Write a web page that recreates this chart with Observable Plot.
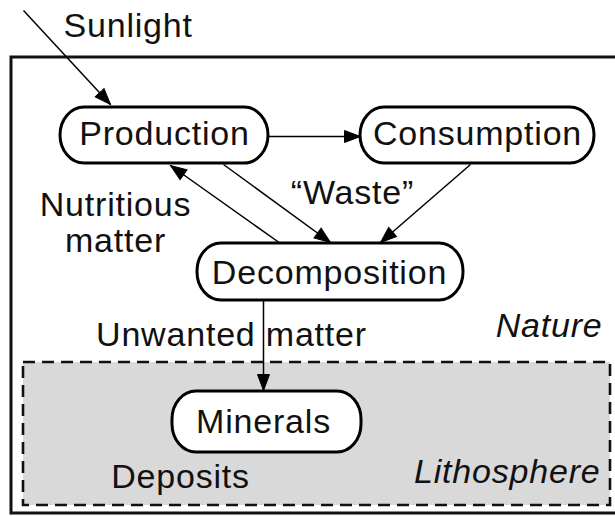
<!DOCTYPE html>
<html><head><meta charset="utf-8">
<script src="https://cdn.jsdelivr.net/npm/d3@7"></script>
<script src="https://cdn.jsdelivr.net/npm/@observablehq/plot@0.6"></script>
<style>html,body{margin:0;padding:0;background:#fff;overflow:hidden}</style>
</head><body><div id="chart"></div>
<script>
// Nodes (pill boxes) of the diagram
const nodeNames = ["Production", "Consumption", "Decomposition", "Minerals"];
const nodeX1 = [60, 360, 197, 172];
const nodeX2 = [268, 594, 463, 361];
const nodeY1 = [107, 107, 243, 391];
const nodeY2 = [163, 163, 300, 452];
const nodeLabelX = [164, 477, 329, 263];
const nodeLabelY = [134, 134, 273, 422];

// Flows (arrows)
const flowFromX = [23, 268, 223, 280, 470, 263];
const flowFromY = [10, 136, 164, 243, 164, 300];
const flowToX = [110, 360, 330, 170, 380, 263];
const flowToY = [104, 136, 242, 165, 242, 390];

// Flow captions
const captions = ["Sunlight", "Nutritious\nmatter", "\u201CWaste\u201D", "Unwanted matter", "Deposits"];
const captionX = [63, 115, 352, 231, 180];
const captionY = [26, 222, 192, 334, 476];
const captionAnchor = ["start", "middle", "middle", "middle", "middle"];

// Regions
const regionNames = ["Nature", "Lithosphere"];
const regionX1 = [11, 23];
const regionX2 = [630, 610];
const regionY1 = [57, 362];
const regionY2 = [513, 505];
const regionLabelX = [602, 600];
const regionLabelY = [326, 472];

const nodes = nodeNames.map((name, i) => ({name, x1: nodeX1[i], x2: nodeX2[i], y1: nodeY1[i], y2: nodeY2[i], lx: nodeLabelX[i], ly: nodeLabelY[i]}));
const flows = flowFromX.map((_, i) => ({x1: flowFromX[i], y1: flowFromY[i], x2: flowToX[i], y2: flowToY[i],
  angle: Math.atan2(flowToY[i] - flowFromY[i], flowToX[i] - flowFromX[i]) * 180 / Math.PI}));
const caps = captions.map((text, i) => ({text, x: captionX[i], y: captionY[i], anchor: captionAnchor[i]}));
const regions = regionNames.map((name, i) => ({name, x1: regionX1[i], x2: regionX2[i], y1: regionY1[i], y2: regionY2[i], lx: regionLabelX[i], ly: regionLabelY[i]}));

const arrowHead = {draw(ctx) { ctx.moveTo(0, 0); ctx.lineTo(-16, -6); ctx.lineTo(-16, 6); ctx.closePath(); }};
const font = "'Liberation Sans', Arial, Helvetica, sans-serif";

const chart = Plot.plot({
  width: 615, height: 516,
  margin: 0,
  x: {domain: [0, 615], range: [0, 615], axis: null},
  y: {domain: [0, 516], range: [0, 516], axis: null},
  style: {fontFamily: font, fontSize: "34px", letterSpacing: "0.8px", background: "white", color: "black"},
  marks: [
    Plot.rect(regions.filter(d => d.name === "Lithosphere"), {x1: "x1", x2: "x2", y1: "y1", y2: "y2", fill: "#d9d9d9", stroke: "#111", strokeWidth: 2.6, strokeDasharray: "12,7"}),
    Plot.rect(regions.filter(d => d.name === "Nature"), {x1: "x1", x2: "x2", y1: "y1", y2: "y2", fill: "none", stroke: "#111", strokeWidth: 3}),
    Plot.link(flows, {x1: "x1", y1: "y1", x2: "x2", y2: "y2", stroke: "black", strokeWidth: 1.5}),
    Plot.rect(nodes, {x1: "x1", x2: "x2", y1: "y1", y2: "y2", rx: 24, ry: 28, fill: "white", stroke: "black", strokeWidth: 3}),
    Plot.dot(flows, {x: "x2", y: "y2", rotate: "angle", symbol: arrowHead, fill: "black", stroke: "black", strokeWidth: 1}),
    Plot.text(nodes, {x: "lx", y: "ly", text: "name", fontSize: 34, fill: "#111"}),
    Plot.text(caps.filter(d => d.anchor === "middle"), {x: "x", y: "y", text: "text", textAnchor: "middle", fontSize: 34, lineHeight: 1.06, fill: "#111"}),
    Plot.text(caps.filter(d => d.anchor === "start"), {x: "x", y: "y", text: "text", textAnchor: "start", fontSize: 34, fill: "#111"}),
    Plot.text(regions, {x: "lx", y: "ly", text: "name", textAnchor: "end", fontSize: 34, fontStyle: "italic", fill: "#111"})
  ]
});
document.getElementById("chart").append(chart);
</script></body></html>
